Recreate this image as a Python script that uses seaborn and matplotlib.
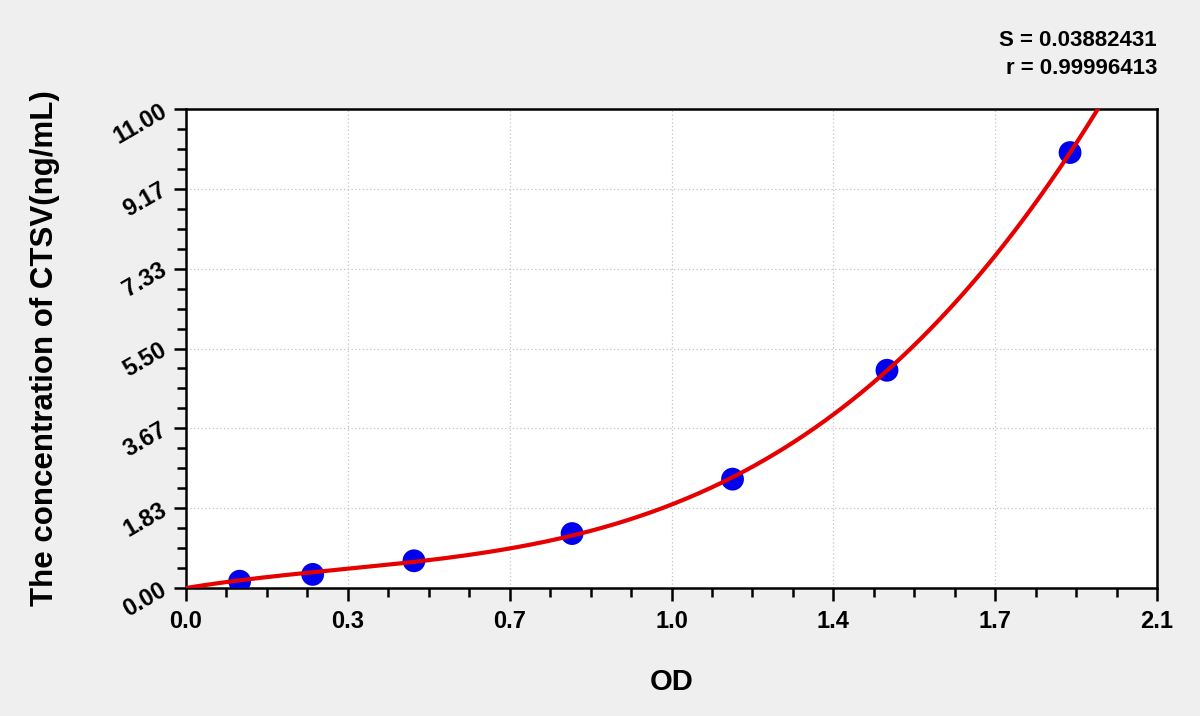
import numpy as np
import pandas as pd
import matplotlib
matplotlib.use("Agg")
import matplotlib.pyplot as plt
import seaborn as sns
from matplotlib.ticker import FixedLocator, MultipleLocator

# ---- data ----
od = [0.116, 0.274, 0.493, 0.835, 1.182, 1.516, 1.912]
conc = [0.156, 0.3125, 0.625, 1.25, 2.5, 5.0, 10.0]

x_ticks = [0.0, 0.35, 0.70, 1.05, 1.40, 1.75, 2.10]
x_tick_labels = ["0.0", "0.3", "0.7", "1.0", "1.4", "1.7", "2.1"]
y_ticks = [0.0, 11 / 6, 22 / 6, 33 / 6, 44 / 6, 55 / 6, 11.0]
y_tick_labels = ["0.00", "1.83", "3.67", "5.50", "7.33", "9.17", "11.00"]
stats_lines = ["S = 0.03882431", "r = 0.99996413"]
x_label = "OD"
y_label = "The concentration of CTSV(ng/mL)"

sns.set_theme(style="white")
plt.rcParams["font.family"] = ["Liberation Sans", "DejaVu Sans"]
plt.rcParams["font.weight"] = "bold"
plt.rcParams["text.color"] = "black"
plt.rcParams["axes.labelcolor"] = "black"
plt.rcParams["xtick.color"] = "black"
plt.rcParams["ytick.color"] = "black"

W, H = 1200, 716
fig = plt.figure(figsize=(W / 100, H / 100), dpi=100, facecolor="#efefef")
left, right, top, bottom = 186, 1157, 109, 588
ax = fig.add_axes([left / W, (H - bottom) / H, (right - left) / W, (bottom - top) / H])
ax.set_facecolor("white")

df = pd.DataFrame({"OD": od, "conc": conc})

# cubic standard curve through the origin, fitted to the points
xa = np.asarray(od)
A = np.column_stack([xa, xa ** 2, xa ** 3])
coef, *_ = np.linalg.lstsq(A, np.asarray(conc), rcond=None)
xf = np.linspace(0, 2.1, 400)
fit = pd.DataFrame({"OD": xf, "conc": coef[0] * xf + coef[1] * xf ** 2 + coef[2] * xf ** 3})

sns.lineplot(data=fit, x="OD", y="conc", color="#e60000", lw=3.0, zorder=4, ax=ax)
sns.scatterplot(data=df, x="OD", y="conc", color="#0000ee", s=270,
                edgecolor="none", zorder=3, ax=ax, legend=False)

ax.set_xlim(0, 2.1)
ax.set_ylim(0, 11)

ax.xaxis.set_major_locator(FixedLocator(x_ticks))
ax.yaxis.set_major_locator(FixedLocator(y_ticks))
ax.xaxis.set_minor_locator(MultipleLocator(0.0875))
ax.yaxis.set_minor_locator(MultipleLocator(11 / 24))
ax.set_xticklabels(x_tick_labels, fontsize=17, fontweight="bold", color="black")
ax.set_yticklabels(y_tick_labels, fontsize=17, fontweight="bold", color="black",
                   rotation=30, ha="right", va="center", rotation_mode="anchor")

ax.tick_params(which="major", direction="out", length=9, width=1.8, color="black",
               bottom=True, left=True, top=False, right=False, pad=7)
ax.tick_params(which="minor", direction="out", length=6.5, width=1.8, color="black",
               bottom=True, left=True, top=False, right=False)
ax.tick_params(axis="y", which="major", pad=6)

ax.grid(True, which="major", linestyle=(0, (1, 2)), color="#c4c4c4", lw=0.9)
ax.set_axisbelow(True)
for sp in ax.spines.values():
    sp.set_visible(True)
    sp.set_color("black")
    sp.set_linewidth(1.8)

ax.set_xlabel(x_label, fontsize=21, fontweight="bold", color="black")
ax.xaxis.label.set_va("center")
ax.xaxis.set_label_coords(0.5, -(682 - bottom) / (bottom - top))
ax.set_ylabel(y_label, fontsize=22.5, fontweight="bold", color="black")
ax.yaxis.label.set_va("center")
ax.yaxis.set_label_coords(-(left - 45) / (right - left), 0.5)

fig.text(right / W, 1 - 40 / H, stats_lines[0], ha="right", va="center",
         fontsize=16, fontweight="bold", color="black")
fig.text(right / W, 1 - 69 / H, stats_lines[1], ha="right", va="center",
         fontsize=16, fontweight="bold", color="black")

fig.savefig("out.png", dpi=100, facecolor=fig.get_facecolor())
